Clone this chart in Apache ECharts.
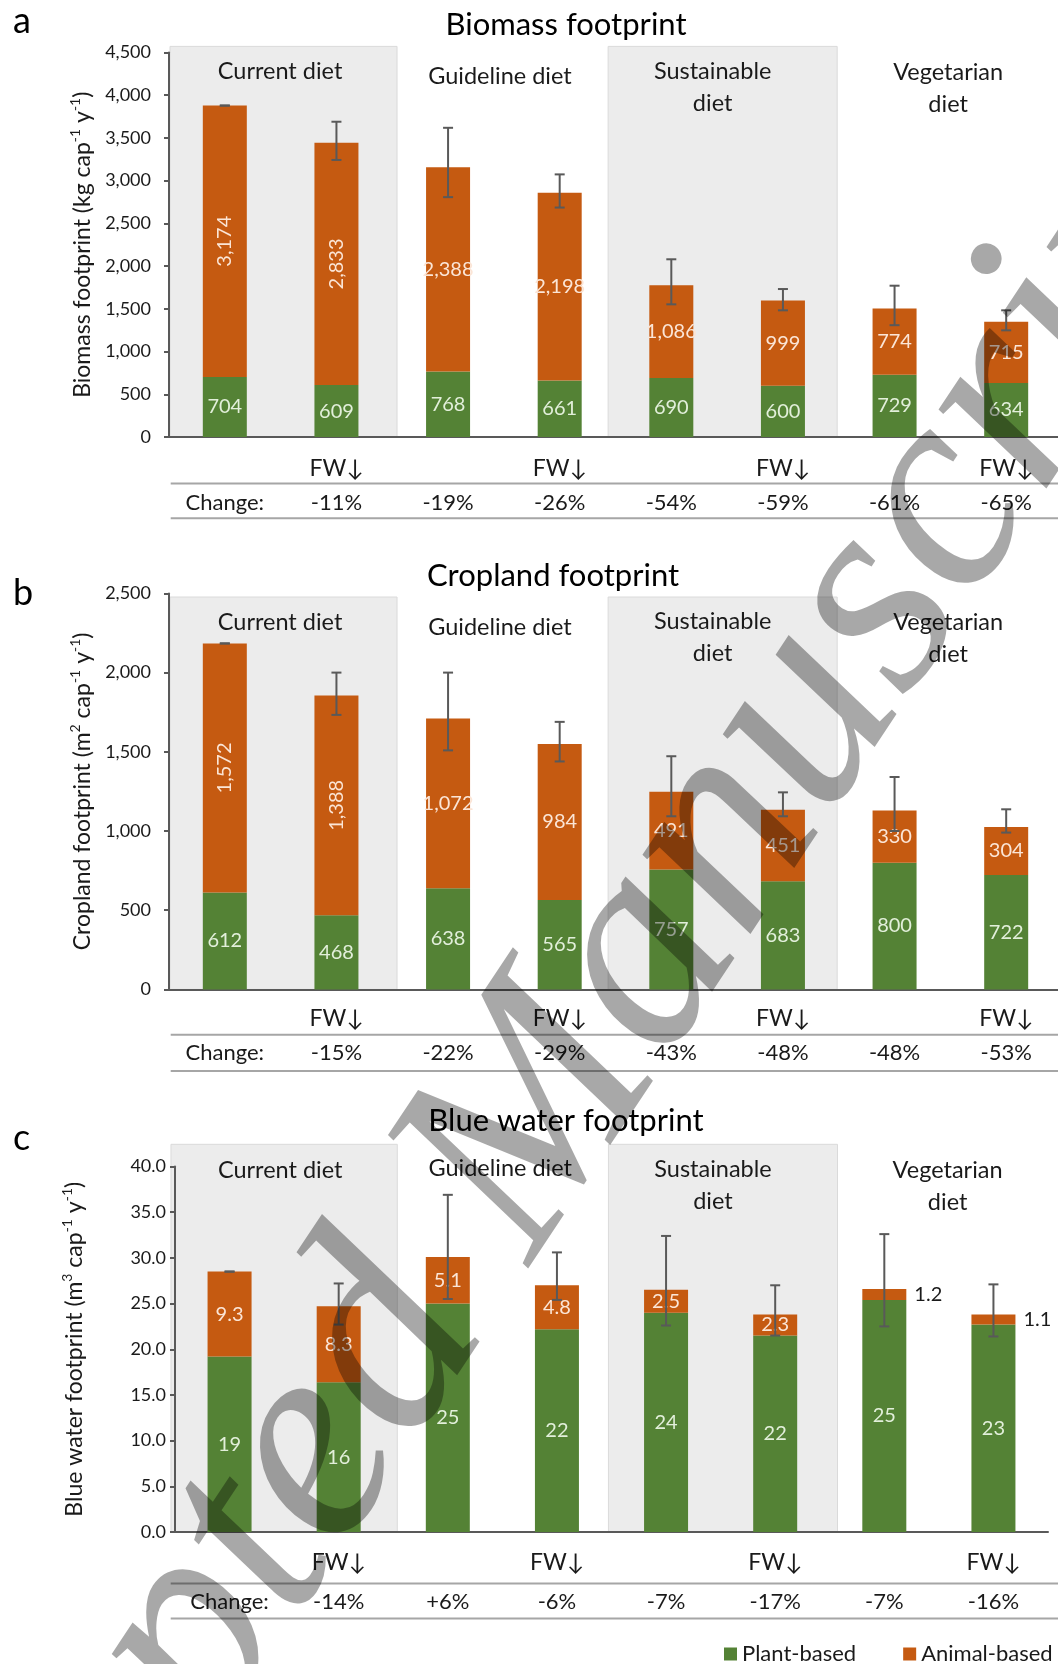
<!DOCTYPE html>
<html><head><meta charset="utf-8">
<script src="https://cdn.jsdelivr.net/npm/echarts@6/dist/echarts.min.js"></script>
<style>html,body{margin:0;padding:0;background:#fff}#c{width:1058px;height:1664px}</style>
</head><body><div id="c"></div><script>
// ---------- data ----------
const categories = ['Current','Current FW','Guideline','Guideline FW','Sustainable','Sustainable FW','Vegetarian','Vegetarian FW'];
const fwLabels = ['', 'FW↓', '', 'FW↓', '', 'FW↓', '', 'FW↓'];
const groupNames = ['Current diet', 'Guideline diet', 'Sustainable\ndiet', 'Vegetarian\ndiet'];
const seriesNames = ['Plant-based', 'Animal-based'];

const biomassPlant   = [704, 609, 768, 661, 690, 600, 729, 634];
const biomassAnimal  = [3174, 2833, 2388, 2198, 1086, 999, 774, 715];
const biomassErrLow  = [3878, 3242, 2807, 2685, 1553, 1483, 1309, 1249];
const biomassErrHigh = [3878, 3689, 3618, 3073, 2080, 1732, 1771, 1483];
const biomassChange  = ['Change:', '-11%', '-19%', '-26%', '-54%', '-59%', '-61%', '-65%'];

const croplandPlant   = [612, 468, 638, 565, 757, 683, 800, 722];
const croplandAnimal  = [1572, 1388, 1072, 984, 491, 451, 330, 304];
const croplandErrLow  = [2184, 1733, 1509, 1439, 1093, 1093, 1000, 990];
const croplandErrHigh = [2184, 2000, 2000, 1689, 1472, 1244, 1341, 1137];
const croplandChange  = ['Change:', '-15%', '-22%', '-29%', '-43%', '-48%', '-48%', '-53%'];

const waterPlant   = [19.2, 16.4, 25.0, 22.2, 24.0, 21.5, 25.4, 22.7];
const waterAnimal  = [9.3, 8.3, 5.1, 4.8, 2.5, 2.3, 1.2, 1.1];
const waterErrLow  = [28.5, 22.7, 25.5, 25.4, 22.6, 21.5, 22.5, 21.4];
const waterErrHigh = [28.5, 27.2, 36.9, 30.6, 32.4, 27.0, 32.6, 27.1];
const waterChange  = ['Change:', '-14%', '+6%', '-6%', '-7%', '-17%', '-7%', '-16%'];

// ---------- style ----------
const FONT = 'Lato, "Noto Sans", sans-serif';
const GREEN = '#548235', ORANGE = '#c55a11';
const TXT = '#1a1a1a';
const comma = v => String(v).replace(/\B(?=(\d{3})+(?!\d))/g, ',');

const panels = [
  { title: 'Biomass footprint', letter: 'a', titleX: 566, titleY: 25, letterY: 21,
    plant: biomassPlant, animal: biomassAnimal, low: biomassErrLow, high: biomassErrHigh, change: biomassChange,
    max: 4500, interval: 500, fmtY: comma, fmtPlant: comma, fmtAnimal: comma,
    name: '{n|Biomass footprint (kg cap}{s|-1}{n| y}{s|-1}{n|)}',
    rotated: [0, 1], outside: [],
    grid: { left: 169, top: 52.4, width: 893, height: 384.7 },
    yMargin: 18, nameGap: 69, fwMargin: 19, changeOffset: 53.6,
    bandSpans: [[-0.491, 1.543], null, [3.434, 5.486], null], bandTop: -6,
    labelX: [0.495, 2.465, 4.37, 6.48], labelY: [19.3, 23.6, 18.6, 20.3],
    seps: [483.4, 518.3] },
  { title: 'Cropland footprint', letter: 'b', titleX: 553, titleY: 576, letterY: 593,
    plant: croplandPlant, animal: croplandAnimal, low: croplandErrLow, high: croplandErrHigh, change: croplandChange,
    max: 2500, interval: 500, fmtY: comma, fmtPlant: comma, fmtAnimal: comma,
    name: '{n|Cropland footprint (m}{s|2}{n| cap}{s|-1}{n| y}{s|-1}{n|)}',
    rotated: [0, 1], outside: [],
    grid: { left: 169, top: 593.4, width: 893, height: 396 },
    yMargin: 18, nameGap: 69, fwMargin: 17.2, changeOffset: 51.6,
    bandSpans: [[-0.491, 1.543], null, [3.434, 5.486], null], bandTop: 3.6,
    labelX: [0.495, 2.465, 4.37, 6.48], labelY: [29.2, 34.4, 27.6, 29.2],
    seps: [1034.8, 1071] },
  { title: 'Blue water footprint', letter: 'c', titleX: 566, titleY: 1120.5, letterY: 1138,
    plant: waterPlant, animal: waterAnimal, low: waterErrLow, high: waterErrHigh, change: waterChange,
    max: 40, interval: 5, fmtY: v => v.toFixed(1), fmtPlant: v => v.toFixed(0), fmtAnimal: v => v.toFixed(1),
    name: '{n|Blue water footprint (m}{s|3}{n| cap}{s|-1}{n| y}{s|-1}{n|)}',
    rotated: [], outside: [6, 7],
    grid: { left: 175, top: 1166.5, width: 873, height: 365.5 },
    yMargin: 9, nameGap: 86.6, fwMargin: 18.2, changeOffset: 57.8,
    bandSpans: [[-0.537, 1.537], null, [3.472, 5.571], null], bandTop: -22.2,
    labelX: [0.464, 2.48, 4.43, 6.58], labelY: [3.6, 1.8, 2.5, 3.5],
    seps: [1583.5, 1618.5] }
];

const grid = [], xAxis = [], yAxis = [], series = [], graphic = [];

panels.forEach((p, i) => {
  grid.push(Object.assign({ containLabel: false, outerBoundsMode: 'none' }, p.grid));

  xAxis.push({
    gridIndex: i, type: 'category', data: categories,
    axisLine: { show: true, lineStyle: { color: '#595959', width: 2 } },
    axisTick: { show: false },
    axisLabel: { interval: 0, margin: p.fwMargin, fontSize: 23, lineHeight: 24, color: TXT, fontFamily: FONT,
      formatter: (v, idx) => fwLabels[idx] }
  });
  xAxis.push({
    gridIndex: i, type: 'category', data: categories, position: 'bottom', offset: p.changeOffset,
    axisLine: { show: false }, axisTick: { show: false },
    axisLabel: { interval: 0, margin: 0, fontSize: 22, lineHeight: 24, color: TXT, fontFamily: FONT,
      formatter: (v, idx) => p.change[idx] }
  });

  yAxis.push({
    gridIndex: i, type: 'value', min: 0, max: p.max, interval: p.interval,
    axisLine: { show: true, lineStyle: { color: '#595959', width: 2 } },
    axisTick: { show: true, length: 5, lineStyle: { color: '#595959', width: 2 } },
    splitLine: { show: false },
    axisLabel: { margin: p.yMargin, fontSize: 18, color: TXT, fontFamily: FONT, formatter: v => p.fmtY(v) },
    name: p.name, nameLocation: 'middle', nameGap: p.nameGap, nameRotate: 90,
    nameTextStyle: {
      color: TXT, fontFamily: FONT,
      rich: {
        n: { fontSize: 23, lineHeight: 28, color: TXT, fontFamily: FONT },
        s: { fontSize: 14, lineHeight: 28, verticalAlign: 'top', color: TXT, fontFamily: FONT }
      }
    }
  });

  const xa = i * 2;

  // background bands and group labels
  series.push({
    type: 'custom', xAxisIndex: xa, yAxisIndex: i, z: 0, silent: true, clip: false,
    data: groupNames.map((n, g) => [g * 2, 0]),
    encode: { x: 0, y: 1 },
    renderItem: (params, api) => {
      const g = params.dataIndex;
      const cs = params.coordSys;
      const c0 = api.coord([0, 0])[0];
      const cw = api.size([1, 0])[0];
      const children = [];
      const span = p.bandSpans[g];
      if (span) {
        const x0 = c0 + span[0] * cw, x1 = c0 + span[1] * cw;
        const yTop = cs.y + p.bandTop, yBot = cs.y + cs.height;
        children.push({ type: 'rect', shape: { x: x0, y: yTop, width: x1 - x0, height: yBot - yTop },
          style: { fill: '#ececec', stroke: '#dadada', lineWidth: 1 } });
      }
      children.push({ type: 'text', x: c0 + p.labelX[g] * cw, y: cs.y + p.labelY[g] - 16,
        style: { text: groupNames[g], fill: TXT, fontSize: 23.5, fontFamily: FONT,
          align: 'center', verticalAlign: 'top', lineHeight: 32 } });
      return { type: 'group', children };
    }
  });

  series.push({
    name: seriesNames[0], type: 'bar', stack: 'total' + i, xAxisIndex: xa, yAxisIndex: i, barWidth: 44, z: 2,
    itemStyle: { color: GREEN },
    label: { show: true, position: 'inside', color: '#e2efda', fontSize: 20, fontFamily: FONT,
      formatter: d => p.fmtPlant(d.value) },
    data: p.plant
  });
  series.push({
    name: seriesNames[1], type: 'bar', stack: 'total' + i, xAxisIndex: xa, yAxisIndex: i, barWidth: 44, z: 2,
    itemStyle: { color: ORANGE },
    label: { show: true, position: 'inside', color: '#fbe5d6', fontSize: 20, fontFamily: FONT,
      formatter: d => p.fmtAnimal(d.value) },
    data: p.animal.map((v, k) => {
      if (p.rotated.includes(k)) return { value: v, label: { rotate: 90 } };
      if (p.outside.includes(k)) return { value: v, label: { position: 'right', distance: 8, color: TXT } };
      return v;
    })
  });

  // error bars
  series.push({
    type: 'custom', xAxisIndex: xa, yAxisIndex: i, z: 5, silent: true,
    data: p.low.map((l, k) => [k, l, p.high[k]]),
    encode: { x: 0, y: [1, 2] },
    renderItem: (params, api) => {
      const x = api.value(0);
      const lo = api.coord([x, api.value(1)]);
      const hi = api.coord([x, api.value(2)]);
      const w = 5;
      const st = { stroke: '#595959', lineWidth: 2 };
      return { type: 'group', children: [
        { type: 'line', shape: { x1: hi[0], y1: hi[1], x2: lo[0], y2: lo[1] }, style: st },
        { type: 'line', shape: { x1: hi[0] - w, y1: hi[1], x2: hi[0] + w, y2: hi[1] }, style: st },
        { type: 'line', shape: { x1: lo[0] - w, y1: lo[1], x2: lo[0] + w, y2: lo[1] }, style: st }
      ] };
    }
  });

  // titles, panel letters, table separators
  graphic.push({ type: 'text', x: p.titleX, y: p.titleY, z: 10,
    style: { text: p.title, fill: '#000', fontSize: 31, fontFamily: FONT, align: 'center', verticalAlign: 'middle' } });
  graphic.push({ type: 'text', x: 13, y: p.letterY, z: 10,
    style: { text: p.letter, fill: '#000', fontSize: 36, fontFamily: FONT, align: 'left', verticalAlign: 'middle' } });
  p.seps.forEach(y => graphic.push({ type: 'line', z: 10,
    shape: { x1: 170.7, y1: y, x2: 1058, y2: y }, style: { stroke: '#a6a6a6', lineWidth: 2 } }));
});

// watermark
graphic.push({ type: 'text', x: -164, y: 2172, rotation: 56.4 * Math.PI / 180, z: 100, silent: true,
  style: { text: 'Accepted Manuscript', fill: 'rgba(0,0,0,0.34)', font: 'italic 291px "Liberation Serif"',
    align: 'left', verticalAlign: 'middle' } });

const chart = echarts.init(document.getElementById('c'));
chart.setOption({
  animation: false,
  backgroundColor: '#fff',
  grid, xAxis, yAxis, series, graphic,
  legend: {
    data: seriesNames, left: 719, top: 1638, icon: 'rect', itemWidth: 13, itemHeight: 13, itemGap: 47,
    textStyle: { fontSize: 22, color: TXT, fontFamily: FONT }
  }
});
</script></body></html>
